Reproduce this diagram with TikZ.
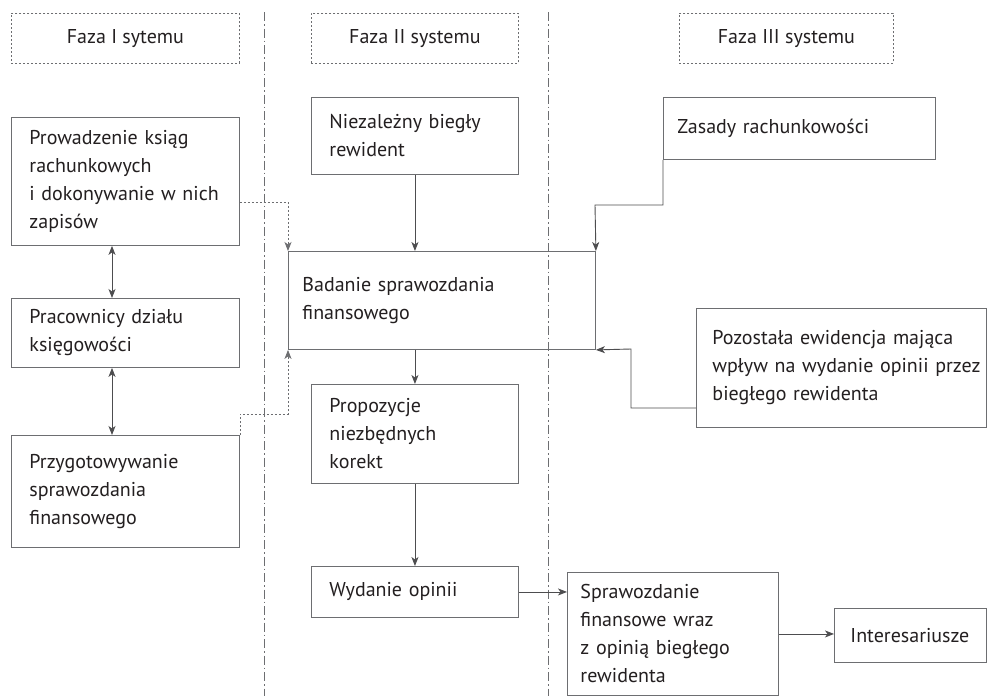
\documentclass[tikz,border=0pt]{standalone}
\usepackage{fontspec}
\setmainfont{PT Sans}
\usetikzlibrary{arrows.meta}
\definecolor{bordergray}{HTML}{6D6E71}
\definecolor{linegray}{HTML}{4D4D4F}
\definecolor{txt}{HTML}{231F20}
\newcommand\fsz{\fontsize{20}{28}\selectfont}
\tikzset{
  bx/.style={draw=bordergray, line width=0.9pt, anchor=north west, align=left,
    inner ysep=0pt, font=\fsz, text=txt},
  hdr/.style={draw=bordergray, line width=0.8pt, dash pattern=on 2pt off 2pt,
    anchor=north west, align=center, inner sep=0pt, font=\fsz, text=txt},
  sep/.style={draw=bordergray, line width=0.8pt, dash pattern=on 9pt off 3pt on 1.5pt off 3pt},
  conn/.style={draw=linegray, line width=0.9pt, -{Stealth[length=9pt,width=7pt,inset=2.5pt]}},
  dconn/.style={draw=linegray, line width=0.9pt, {Stealth[length=9pt,width=7pt,inset=2.5pt]}-{Stealth[length=9pt,width=7pt,inset=2.5pt]}},
  dotconn/.style={draw=bordergray, line width=0.8pt, dash pattern=on 2pt off 2pt, -{Stealth[length=9pt,width=7pt,inset=2.5pt]}}
}
\begin{document}
\begin{tikzpicture}[x=1pt,y=-1pt]
\useasboundingbox (0,0) rectangle (987,696);
\fill[white] (0,0) rectangle (987,696);

% phase separators
\coordinate (s1t) at (264,12);
\coordinate (s1b) at (264,696);
\coordinate (s2t) at (548,12);
\coordinate (s2b) at (548,696);
\draw[sep] (s1t) -- (s1b);
\draw[sep] (s2t) -- (s2b);

% headers
\node[hdr, minimum width=228pt, minimum height=50pt] (h1) at (11,13) {Faza I sytemu};
\node[hdr, minimum width=207pt, minimum height=50pt] (h2) at (311,13) {Faza II systemu};
\node[hdr, minimum width=214pt, minimum height=50pt] (h3) at (679,13) {Faza III systemu};

% phase I
\node[bx, minimum width=228pt, minimum height=128pt, text width=192pt, inner xsep=18pt] (A) at (11,117)
  {Prowadzenie ksiąg\\rachunkowych\\i dokonywanie w nich\\zapisów};
\node[bx, minimum width=228pt, minimum height=69pt, text width=192pt, inner xsep=18pt] (B) at (11,298)
  {Pracownicy działu\\księgowości};
\node[bx, minimum width=228pt, minimum height=112pt, text width=192pt, inner xsep=18pt] (C) at (11,435)
  {Przygotowywanie\\sprawozdania\\finansowego};

% phase II
\node[bx, minimum width=207pt, minimum height=77pt, text width=171pt, inner xsep=18pt] (N) at (311,97)
  {Niezależny biegły\\rewident};
\node[bx, minimum width=307pt, minimum height=98pt, text width=279pt, inner xsep=14pt] (Bd) at (288,251)
  {Badanie sprawozdania\\finansowego};
\node[bx, minimum width=207pt, minimum height=99pt, text width=171pt, inner xsep=18pt] (Pr) at (311,384)
  {Propozycje\\niezbędnych\\korekt};
\node[bx, minimum width=207pt, minimum height=51pt, text width=171pt, inner xsep=18pt] (W) at (311,566)
  {Wydanie opinii};

% phase III
\node[bx, minimum width=272pt, minimum height=62pt, text width=244pt, inner xsep=14pt] (Z) at (663,97)
  {Zasady rachunkowości};
\node[bx, minimum width=290pt, minimum height=119pt, text width=258pt, inner xsep=16pt] (Pz) at (696,308)
  {\mbox{Pozostała ewidencja mająca}\\\mbox{wpływ na wydanie opinii przez}\\\mbox{biegłego rewidenta}};
\node[bx, minimum width=211pt, minimum height=123pt, text width=185pt, inner xsep=13pt] (S) at (567,572)
  {Sprawozdanie\\finansowe wraz\\z opinią biegłego\\rewidenta};
\node[bx, minimum width=152pt, minimum height=54pt, text width=120pt, inner xsep=16pt] (I) at (834,608)
  {Interesariusze};

% helper coordinates
\coordinate (ax) at (112,0);
\coordinate (k1) at (288,202);
\coordinate (k2) at (288,414);
\coordinate (k3) at (595,205);
\coordinate (k4) at (631,349);
\coordinate (k5) at (631,408);

% connectors phase I
\draw[dconn] (A.south -| ax) -- (B.north -| ax);
\draw[dconn] (B.south -| ax) -- (C.north -| ax);
\draw[dotconn] (A.east |- k1) -- (k1) -- (Bd.north west);
\draw[dotconn] (C.north east) |- (k2) -- (Bd.south west);

% connectors phase II
\draw[conn] (N.south) -- (N.south |- Bd.north);
\draw[conn] (Bd.south -| Pr.north) -- (Pr.north);
\draw[conn] (Pr.south) -- (W.north);
\draw[conn] (W.east) -- (W.east -| S.west);

% connectors phase III
\draw[conn] (Z.south west) |- (k3) -- (Bd.north east);
\draw[conn] (Pz.west |- k5) -- (k5) -- (k4) -- (Bd.south east);
\draw[conn] (S.east) -- (S.east -| I.west);
\end{tikzpicture}
\end{document}
